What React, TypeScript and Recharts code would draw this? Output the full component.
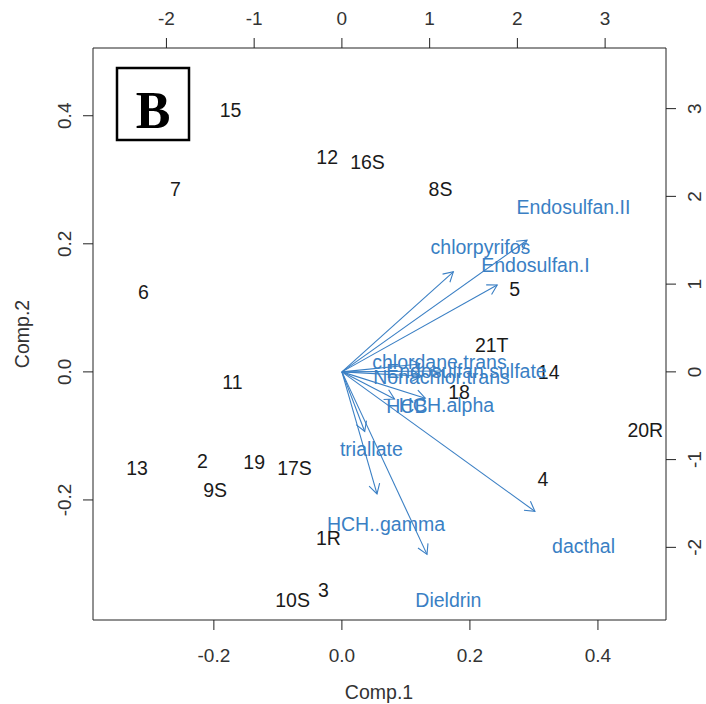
import { ScatterChart, Scatter, XAxis, YAxis, ReferenceLine } from "recharts";

// sample scores (bottom / left axes)
const sampleNames = ["15", "12", "16S", "7", "8S", "6", "5", "21T", "14", "18", "11", "20R", "13", "2", "19", "17S", "9S", "4", "1R", "3", "10S"];
const sampleComp1 = [-0.174, -0.023, 0.04, -0.26, 0.154, -0.31, 0.27, 0.234, 0.323, 0.183, -0.171, 0.474, -0.32, -0.218, -0.137, -0.074, -0.198, 0.314, -0.021, -0.029, -0.077];
const sampleComp2 = [0.409, 0.336, 0.328, 0.286, 0.286, 0.125, 0.129, 0.042, -0.001, -0.031, -0.016, -0.091, -0.15, -0.139, -0.141, -0.15, -0.184, -0.168, -0.259, -0.341, -0.356];

// variable loadings (top / right axes)
const variableNames = ["Endosulfan.II", "chlorpyrifos", "Endosulfan.I", "chlordane.trans", "Endosulfan.sulfate", "Nonachlor.trans", "HCB", "HCH.alpha", "triallate", "HCH..gamma", "dacthal", "Dieldrin"];
const labelComp1 = [2.64, 1.579, 2.206, 1.112, 1.42, 1.135, 0.74, 1.192, 0.336, 0.502, 2.754, 1.214];
const labelComp2 = [1.881, 1.425, 1.22, 0.114, 0.011, -0.057, -0.388, -0.376, -0.878, -1.733, -1.984, -2.6];
const arrowComp1 = [2.11, 1.27, 1.77, 0.89, 1.14, 0.91, 0.6, 0.95, 0.26, 0.4, 2.2, 0.97];
const arrowComp2 = [1.5, 1.14, 0.99, 0.09, 0.01, -0.05, -0.31, -0.3, -0.68, -1.39, -1.59, -2.08];

const scoreTicks = [-0.2, 0, 0.2, 0.4];
const loadingTicks = [-2, -1, 0, 1, 2, 3];

const FONT = "'Liberation Sans', Arial, sans-serif";
const BLUE = "#3a7fc4";

const samples = sampleNames.map((name, i) => ({ name, x: sampleComp1[i], y: sampleComp2[i] }));
const varLabels = variableNames.map((name, i) => ({ name, x: labelComp1[i], y: labelComp2[i] }));

const SampleLabel = (p: any) => (
  <text x={p.cx} y={p.cy} dy="0.35em" textAnchor="middle" fontSize={19.5} fill="#1a1a1a" fontFamily={FONT}>
    {p.payload.name}
  </text>
);

const VarLabel = (p: any) => (
  <text x={p.cx} y={p.cy} dy="0.35em" textAnchor="middle" fontSize={19.5} fill={BLUE} fontFamily={FONT}>
    {p.payload.name}
  </text>
);

const Arrow = (p: any) => {
  const { x1, y1, x2, y2 } = p;
  const a = Math.atan2(y2 - y1, x2 - x1);
  const len = 11;
  const sp = Math.PI / 6;
  const ax = x2 - len * Math.cos(a - sp);
  const ay = y2 - len * Math.sin(a - sp);
  const bx = x2 - len * Math.cos(a + sp);
  const by = y2 - len * Math.sin(a + sp);
  return (
    <g>
      <line x1={x1} y1={y1} x2={x2} y2={y2} stroke={BLUE} strokeWidth={1.1} />
      <polyline points={`${ax},${ay} ${x2},${y2} ${bx},${by}`} fill="none" stroke={BLUE} strokeWidth={1.1} />
    </g>
  );
};

const tickText = { fontSize: 19, fill: "#333", fontFamily: FONT };

const BottomTick = (p: any) => (
  <text x={p.x} y={655} dy="0.35em" textAnchor="middle" {...tickText}>
    {Number(p.payload.value).toFixed(1)}
  </text>
);
const TopTick = (p: any) => (
  <text x={p.x} y={18} dy="0.35em" textAnchor="middle" {...tickText}>
    {p.payload.value}
  </text>
);
const LeftTick = (p: any) => (
  <text x={71} y={p.y} transform={`rotate(-90 71 ${p.y})`} textAnchor="middle" {...tickText}>
    {Number(p.payload.value).toFixed(1)}
  </text>
);
const RightTick = (p: any) => (
  <text x={701} y={p.y} transform={`rotate(-90 701 ${p.y})`} textAnchor="middle" {...tickText}>
    {p.payload.value}
  </text>
);

export default function App() {
  return (
    <div style={{ position: "relative", width: 706, height: 704, background: "#fff" }}>
      <style>{"body{margin:0;background:#fff}"}</style>
      <ScatterChart width={706} height={704} margin={{ top: 0, right: 0, bottom: 0, left: 0 }}>
        <XAxis
          xAxisId="b"
          type="number"
          dataKey="x"
          orientation="bottom"
          domain={[-0.3888, 0.5063]}
          allowDataOverflow
          ticks={scoreTicks}
          interval={0}
          height={84}
          tickSize={10}
          axisLine={{ stroke: "#222" }}
          tickLine={{ stroke: "#222" }}
          tick={<BottomTick />}
        />
        <XAxis
          xAxisId="t"
          type="number"
          dataKey="x"
          orientation="top"
          domain={[-2.837, 3.694]}
          allowDataOverflow
          ticks={loadingTicks}
          interval={0}
          height={48}
          tickSize={10}
          axisLine={{ stroke: "#222" }}
          tickLine={{ stroke: "#222" }}
          tick={<TopTick />}
        />
        <YAxis
          yAxisId="l"
          type="number"
          dataKey="y"
          orientation="left"
          domain={[-0.3875, 0.5058]}
          allowDataOverflow
          ticks={scoreTicks}
          interval={0}
          width={93}
          tickSize={10}
          axisLine={{ stroke: "#222" }}
          tickLine={{ stroke: "#222" }}
          tick={<LeftTick />}
        />
        <YAxis
          yAxisId="r"
          type="number"
          dataKey="y"
          orientation="right"
          domain={[-2.828, 3.691]}
          allowDataOverflow
          ticks={loadingTicks}
          interval={0}
          width={40}
          tickSize={10}
          axisLine={{ stroke: "#222" }}
          tickLine={{ stroke: "#222" }}
          tick={<RightTick />}
        />
        {variableNames.map((name, i) => (
          <ReferenceLine
            key={name}
            xAxisId="t"
            yAxisId="r"
            segment={[
              { x: 0, y: 0 },
              { x: arrowComp1[i], y: arrowComp2[i] },
            ]}
            shape={(p: any) => <Arrow {...p} />}
          />
        ))}
        <Scatter xAxisId="b" yAxisId="l" data={samples} shape={SampleLabel} isAnimationActive={false} />
        <Scatter xAxisId="t" yAxisId="r" data={varLabels} shape={VarLabel} isAnimationActive={false} />
      </ScatterChart>
      <svg width={706} height={704} style={{ position: "absolute", left: 0, top: 0, pointerEvents: "none" }}>
        <text x={379} y={699} textAnchor="middle" fontSize={19.5} fill="#333" fontFamily={FONT}>
          Comp.1
        </text>
        <text x={29} y={334} transform="rotate(-90 29 334)" textAnchor="middle" fontSize={19.5} fill="#333" fontFamily={FONT}>
          Comp.2
        </text>
        <rect x={117} y={68} width={72} height={72} fill="#fff" stroke="#000" strokeWidth={2.5} />
        <text x={153} y={128} textAnchor="middle" fontSize={52} fontWeight="bold" fill="#000" fontFamily="'Liberation Serif', 'Times New Roman', serif">
          B
        </text>
      </svg>
    </div>
  );
}
